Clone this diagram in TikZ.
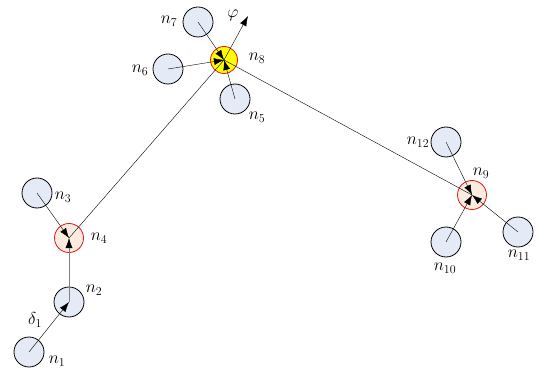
\documentclass[tikz,border=0pt]{standalone}
\usepackage{amsmath}
\usepackage{amssymb}
\usepackage{xcolor}
\usepackage{tikz}
\usetikzlibrary{
	arrows.meta,
	calc,
	positioning
}
\definecolor{NodeBlue}{RGB}{228,235,246}
\definecolor{NodePeach}{RGB}{251,236,224}
\definecolor{HeadRed}{RGB}{230,20,20}
\definecolor{HeadYellow}{RGB}{255,255,0}

\tikzset{
	member/.style={circle, draw, thick, fill=NodeBlue, minimum size=30pt, inner sep=0pt},
	head/.style={circle, draw=HeadRed, thick, fill=NodePeach, minimum size=29pt, inner sep=0pt},
	leader/.style={circle, draw=HeadRed, thick, fill=HeadYellow, minimum size=27pt, inner sep=0pt},
	lbl/.style={font=\LARGE},
	link/.style={-{Latex[length=10pt,width=7pt]}}
}

\begin{document}
\begin{tikzpicture}[x=1pt, y=-1pt]
		\useasboundingbox (0,0) rectangle (545,371);
		
		% 簇头
		\node[head] (n4) at (69,238) {};
		\node[leader] (n8) at (224,60) {};
		\node[head] (n9) at (472,195) {};
		
		% 普通节点
		\node[member] (n1) at (29,352) {};
		\node[member] (n2) at (69,302) {};
		\node[member] (n3) at (37,193) {};
		\node[member] (n5) at (235,99) {};
		\node[member] (n6) at (168,69) {};
		\node[member] (n7) at (198,22) {};
		\node[member] (n10) at (446,242) {};
		\node[member] (n11) at (518,232) {};
		\node[member] (n12) at (446,142) {};
		
		% 簇头之间的链路
		\draw (n4.center) -- (n8.center);
		\draw (n8.center) -- (n9.center);
		
		% 成员到簇头
		\draw[link] (n1.center) -- (n2.center);
		\draw[-{Latex[length=10pt,width=7pt,black]}, gray] (n2.center) -- (n4.center);
		\draw[link] (n3.center) -- (n4.center);
		\draw[link] (n5.center) -- (n8.center);
		\draw[link] (n6.center) -- (n8.center);
		\draw[link] (n7.center) -- (n8.center);
		\draw[link] (n10.center) -- (n9.center);
		\draw[link] (n11.center) -- (n9.center);
		\draw[link] (n12.center) -- (n9.center);
		
		% 方向 phi
		\coordinate (phi) at (248,16);
		\draw[link] (n8.center) -- (phi);
		
		% 标注
		\node[lbl] at (57,361) {$n_1$};
		\node[lbl] at (94,290) {$n_2$};
		\node[lbl] at (63,197) {$n_3$};
		\node[lbl] at (99,238) {$n_4$};
		\node[lbl] at (257,117) {$n_5$};
		\node[lbl] at (140,70) {$n_6$};
		\node[lbl] at (169,21) {$n_7$};
		\node[lbl] at (257,58) {$n_8$};
		\node[lbl] at (481,173) {$n_9$};
		\node[lbl] at (445,268) {$n_{10}$};
		\node[lbl] at (519,255) {$n_{11}$};
		\node[lbl] at (418,142) {$n_{12}$};
		\node[lbl] at (35,320) {$\delta_1$};
		\node[lbl] at (233,15) {$\varphi$};
	\end{tikzpicture}
\end{document}
